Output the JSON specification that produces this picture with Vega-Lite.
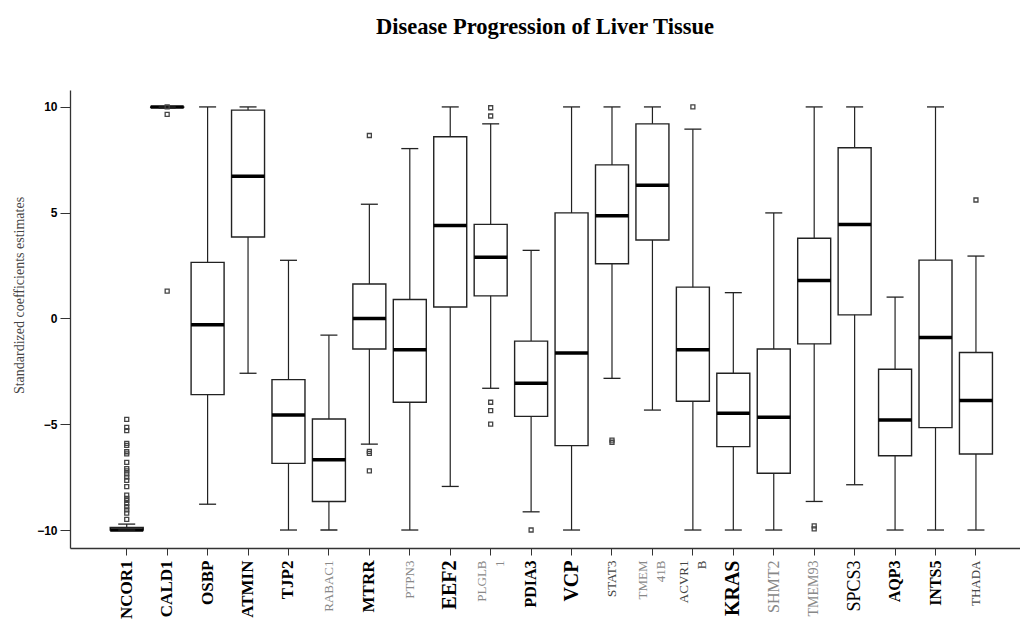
{
  "$schema": "https://vega.github.io/schema/vega-lite/v6.json",
  "width": 950,
  "height": 458,
  "autosize": {"type": "none"},
  "padding": {"left": 70, "top": 90, "right": 0, "bottom": 71},
  "background": "white",
  "config": {"view": {"stroke": null}},
  "title": {"text": "Disease Progression of Liver Tissue", "font": "Liberation Serif", "fontSize": 22.5, "fontWeight": "bold", "color": "#000", "anchor": "middle", "offset": 52},
  "datasets": {
    "boxes": [
      {"gene": "NCOR1", "lower": -10, "q1": -10, "median": -10, "q3": -9.88, "upper": -9.72},
      {"gene": "CALD1", "lower": 9.95, "q1": 9.98, "median": 10, "q3": 10, "upper": 10},
      {"gene": "OSBP", "lower": -8.78, "q1": -3.6, "median": -0.3, "q3": 2.65, "upper": 10},
      {"gene": "ATMIN", "lower": -2.59, "q1": 3.85, "median": 6.72, "q3": 9.85, "upper": 10},
      {"gene": "TJP2", "lower": -10, "q1": -6.85, "median": -4.56, "q3": -2.89, "upper": 2.75},
      {"gene": "RABAC1", "lower": -10, "q1": -8.65, "median": -6.68, "q3": -4.75, "upper": -0.79},
      {"gene": "MTRR", "lower": -5.94, "q1": -1.44, "median": 0, "q3": 1.63, "upper": 5.4},
      {"gene": "PTPN3", "lower": -10, "q1": -3.96, "median": -1.48, "q3": 0.9, "upper": 8.03},
      {"gene": "EEF2", "lower": -7.94, "q1": 0.54, "median": 4.39, "q3": 8.59, "upper": 10},
      {"gene": "PLGLB1", "lower": -3.3, "q1": 1.07, "median": 2.89, "q3": 4.45, "upper": 9.2},
      {"gene": "PDIA3", "lower": -9.14, "q1": -4.63, "median": -3.06, "q3": -1.07, "upper": 3.22},
      {"gene": "VCP", "lower": -10, "q1": -6.01, "median": -1.63, "q3": 4.99, "upper": 10},
      {"gene": "STAT3", "lower": -2.83, "q1": 2.59, "median": 4.86, "q3": 7.26, "upper": 10},
      {"gene": "TMEM41B", "lower": -4.33, "q1": 3.71, "median": 6.3, "q3": 9.2, "upper": 10},
      {"gene": "ACVR1B", "lower": -10, "q1": -3.91, "median": -1.48, "q3": 1.48, "upper": 8.95},
      {"gene": "KRAS", "lower": -10, "q1": -6.06, "median": -4.48, "q3": -2.59, "upper": 1.22},
      {"gene": "SHMT2", "lower": -10, "q1": -7.32, "median": -4.67, "q3": -1.44, "upper": 4.99},
      {"gene": "TMEM93", "lower": -8.65, "q1": -1.2, "median": 1.8, "q3": 3.79, "upper": 10},
      {"gene": "SPCS3", "lower": -7.86, "q1": 0.17, "median": 4.44, "q3": 8.07, "upper": 10},
      {"gene": "AQP3", "lower": -10, "q1": -6.49, "median": -4.8, "q3": -2.4, "upper": 1.01},
      {"gene": "INTS5", "lower": -10, "q1": -5.16, "median": -0.9, "q3": 2.76, "upper": 10},
      {"gene": "THADA", "lower": -10, "q1": -6.41, "median": -3.88, "q3": -1.61, "upper": 2.95}
    ],
    "outliers": [
      {"gene": "NCOR1", "value": -4.77}, {"gene": "NCOR1", "value": -5.15}, {"gene": "NCOR1", "value": -5.3},
      {"gene": "NCOR1", "value": -5.9}, {"gene": "NCOR1", "value": -6.0}, {"gene": "NCOR1", "value": -6.3},
      {"gene": "NCOR1", "value": -6.4}, {"gene": "NCOR1", "value": -6.8}, {"gene": "NCOR1", "value": -7.1},
      {"gene": "NCOR1", "value": -7.2}, {"gene": "NCOR1", "value": -7.35}, {"gene": "NCOR1", "value": -7.5},
      {"gene": "NCOR1", "value": -7.65}, {"gene": "NCOR1", "value": -7.95}, {"gene": "NCOR1", "value": -8.35},
      {"gene": "NCOR1", "value": -8.5}, {"gene": "NCOR1", "value": -8.6}, {"gene": "NCOR1", "value": -8.75},
      {"gene": "NCOR1", "value": -8.9}, {"gene": "NCOR1", "value": -9.05}, {"gene": "NCOR1", "value": -9.2},
      {"gene": "NCOR1", "value": -9.5},
      {"gene": "CALD1", "value": 10}, {"gene": "CALD1", "value": 9.65}, {"gene": "CALD1", "value": 1.29},
      {"gene": "MTRR", "value": 8.65}, {"gene": "MTRR", "value": -6.28}, {"gene": "MTRR", "value": -6.38}, {"gene": "MTRR", "value": -7.2},
      {"gene": "PLGLB1", "value": 9.96}, {"gene": "PLGLB1", "value": 9.57}, {"gene": "PLGLB1", "value": -3.96},
      {"gene": "PLGLB1", "value": -4.36}, {"gene": "PLGLB1", "value": -4.99},
      {"gene": "PDIA3", "value": -10},
      {"gene": "STAT3", "value": -5.75}, {"gene": "STAT3", "value": -5.85},
      {"gene": "ACVR1B", "value": 10},
      {"gene": "TMEM93", "value": -9.8}, {"gene": "TMEM93", "value": -9.95},
      {"gene": "THADA", "value": 5.6}
    ]
  },
  "encoding": {
    "x": {
      "field": "gene", "type": "nominal", "sort": null,
      "scale": {"domain": ["NCOR1","CALD1","OSBP","ATMIN","TJP2","RABAC1","MTRR","PTPN3","EEF2","PLGLB1","PDIA3","VCP","STAT3","TMEM41B","ACVR1B","KRAS","SHMT2","TMEM93","SPCS3","AQP3","INTS5","THADA"], "paddingInner": 0, "paddingOuter": 0.746, "align": 0.605},
      "axis": {
        "title": null, "labelAngle": 270, "labelPadding": 5, "tickSize": 7, "tickColor": "#333", "domainColor": "#333", "domainWidth": 1.3,
        "labelFont": "Liberation Serif", "labelLineHeight": 18,
        "labelExpr": "datum.value == 'PLGLB1' ? ['PLGLB','1'] : datum.value == 'TMEM41B' ? ['TMEM','41B'] : datum.value == 'ACVR1B' ? ['ACVR1','B'] : datum.label",
        "labelOffset": {"condition": {"test": "indexof(['PLGLB1','TMEM41B','ACVR1B'], datum.value) >= 0", "value": -9}, "value": 0},
        "labelFontWeight": {"condition": {"test": "indexof(['NCOR1','CALD1','OSBP','ATMIN','TJP2','MTRR','EEF2','PDIA3','VCP','KRAS','AQP3','INTS5'], datum.value) >= 0", "value": "bold"}, "value": "normal"},
        "labelColor": {"condition": [{"test": "indexof(['RABAC1','PTPN3','PLGLB1','TMEM41B','SHMT2','TMEM93'], datum.value) >= 0", "value": "#888"}, {"test": "indexof(['STAT3','ACVR1B','THADA'], datum.value) >= 0", "value": "#444"}], "value": "#000"},
        "labelFontSize": {"condition": [{"test": "indexof(['EEF2','VCP','KRAS'], datum.value) >= 0", "value": 20}, {"test": "datum.value == 'SPCS3'", "value": 18}, {"test": "indexof(['NCOR1','CALD1','OSBP','ATMIN','TJP2','MTRR'], datum.value) >= 0", "value": 17}, {"test": "indexof(['PDIA3','AQP3','INTS5','SHMT2'], datum.value) >= 0", "value": 16}, {"test": "datum.value == 'TMEM93'", "value": 14}], "value": 13}
      }
    }
  },
  "layer": [
    {
      "data": {"name": "boxes"},
      "mark": {"type": "rule", "color": "#222", "strokeWidth": 1.2},
      "encoding": {
        "y": {"field": "lower", "type": "quantitative", "scale": {"domain": [-10.85, 10.8], "nice": false, "zero": false},
          "axis": {"title": "Standardized coefficients estimates", "values": [-10, -5, 0, 5, 10], "grid": false,
            "labelFont": "Liberation Sans", "labelFontWeight": "bold", "labelFontSize": 12, "labelColor": "#000", "labelPadding": 3,
            "tickSize": 10, "tickColor": "#333", "domainColor": "#333", "domainWidth": 1.3,
            "titleFont": "Liberation Serif", "titleFontSize": 14, "titleFontWeight": "normal", "titleColor": "#444",
            "titleX": -51, "titleY": 205, "titleAngle": 270, "titleAlign": "center", "titleBaseline": "middle"}},
        "y2": {"field": "upper"}
      }
    },
    {
      "data": {"name": "boxes"},
      "mark": {"type": "bar", "width": 33, "fill": "white", "stroke": "#222", "strokeWidth": 1.4},
      "encoding": {"y": {"field": "q1", "type": "quantitative"}, "y2": {"field": "q3"}}
    },
    {
      "data": {"name": "boxes"},
      "mark": {"type": "tick", "color": "#000", "opacity": 1, "size": 33, "thickness": 3.5},
      "encoding": {"y": {"field": "median", "type": "quantitative"}}
    },
    {
      "data": {"name": "boxes"},
      "mark": {"type": "tick", "color": "#222", "opacity": 1, "size": 17, "thickness": 1.3},
      "encoding": {"y": {"field": "upper", "type": "quantitative"}}
    },
    {
      "data": {"name": "boxes"},
      "mark": {"type": "tick", "color": "#222", "opacity": 1, "size": 17, "thickness": 1.3},
      "encoding": {"y": {"field": "lower", "type": "quantitative"}}
    },
    {
      "data": {"name": "outliers"},
      "mark": {"type": "point", "shape": "square", "filled": false, "size": 16, "strokeWidth": 1.3, "color": "#444", "opacity": 1},
      "encoding": {"y": {"field": "value", "type": "quantitative"}}
    },
    {
      "mark": {"type": "rule", "color": "#000", "strokeWidth": 1.5, "strokeDash": [2, 2]},
      "encoding": {"y": {"datum": 0}, "x": null}
    },
    {
      "mark": {"type": "rule", "color": "#333", "strokeWidth": 1.3},
      "encoding": {"y": {"datum": 10.8}, "x": null}
    }
  ]
}
